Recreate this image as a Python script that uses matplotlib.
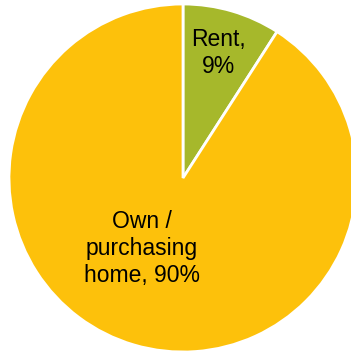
import matplotlib
matplotlib.use("Agg")
import matplotlib.pyplot as plt

# donnees du graphique
categories = ["Rent", "Own /\npurchasing\nhome"]
parts = [9, 90]
couleurs = ["#A6B82B", "#FDC10B"]

fig = plt.figure(figsize=(3.51, 3.54), dpi=100)
ax = fig.add_axes([9 / 351, 2 / 354, 348 / 351, 348 / 354])

ax.pie(parts, colors=couleurs, startangle=90, counterclock=False,
       wedgeprops={"edgecolor": "white", "linewidth": 2})
ax.set_xlim(-1, 1)
ax.set_ylim(-1, 1)
ax.set_aspect("equal")
ax.axis("off")

# etiquettes
ax.text(0.205, 0.72, f"{categories[0]},\n{parts[0]}%", ha="center", va="center",
        fontsize=16.5, family="Liberation Sans", linespacing=1.2)
ax.text(-0.235, -0.405, f"{categories[1]}, {parts[1]}%", ha="center", va="center",
        fontsize=16.5, family="Liberation Sans", linespacing=1.2)

fig.savefig("out.png", dpi=100)
